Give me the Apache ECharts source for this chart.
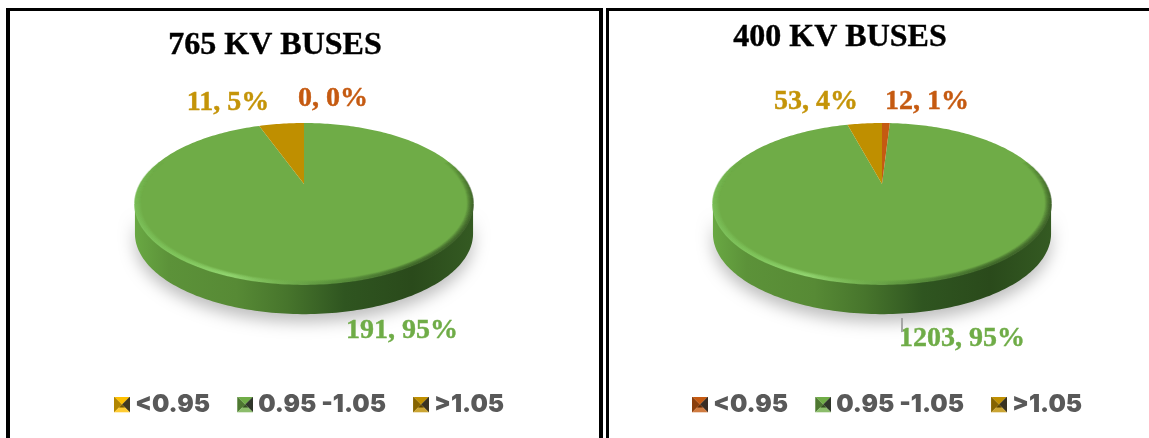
<!DOCTYPE html>
<html><head><meta charset="utf-8">
<style>html,body{margin:0;padding:0;background:#fff}#c{width:1149px;height:438px}</style>
<script src="https://cdn.jsdelivr.net/npm/echarts@6/dist/echarts.min.js"></script>
</head><body><div id="c"></div>
<script>
const categories = ['<0.95', '0.95 -1.05', '>1.05'];
const values765 = [0, 191, 11];
const values400 = [12, 1203, 53];
const titles = ['765 KV BUSES', '400 KV BUSES'];
const sliceColors = ['#c55a11', '#6fac47', '#bf8f00'];
const markerColors765 = ['#ffc000', '#70ad47', '#bf8f00'];
const markerColors400 = ['#c55a11', '#70ad47', '#bf8f00'];

const pies = [
  {cx: 304, apexY: 184, values: values765, markers: markerColors765, title: titles[0], titleX: 270, titleY: 25,
   legendX: 114, labelPos: [[333, 99], [402, 331], [228, 103]]},
  {cx: 882, apexY: 184, values: values400, markers: markerColors400, title: titles[1], titleX: 835, titleY: 17,
   legendX: 692, labelPos: [[927, 102], [962, 339], [816, 102]]}
];
// perspective disc: A,B,P give a projective circle; DEPTH is the extrusion
const A = 164, B = 75.8, P = 0.243, DEPTH = 30;
// t runs clockwise from the top: FRONT_START is the right-hand extreme, FRONT_END the left-hand one
const FRONT_START = Math.acos(-P), FRONT_END = 2 * Math.PI - FRONT_START;

function pt(pie, t, dy, scale) {
  const s = scale || 1, w = 1 + P * Math.cos(t);
  return [pie.cx + s * A * Math.sin(t) / w, pie.apexY - s * B * Math.cos(t) / w + (dy || 0)];
}
function arc(pie, t0, t1, dy, scale) {
  const n = Math.max(2, Math.ceil(Math.abs(t1 - t0) / 0.02)), out = [];
  for (let i = 0; i <= n; i++) out.push(pt(pie, t0 + (t1 - t0) * i / n, dy, scale));
  return out;
}
function wallGradient() {
  return new echarts.graphic.LinearGradient(0, 0, 1, 0, [
    {offset: 0, color: '#69a843'}, {offset: 0.1, color: '#5c9239'}, {offset: 0.3, color: '#578a35'},
    {offset: 0.45, color: '#47752c'}, {offset: 0.62, color: '#2f5520'}, {offset: 0.82, color: '#2a4a1b'}, {offset: 1, color: '#345a22'}
  ]);
}
function rimGradient(alpha) {
  const c = (r, g, b) => `rgba(${r},${g},${b},${alpha})`;
  return new echarts.graphic.LinearGradient(0, 0, 1, 0, [
    {offset: 0, color: c(122, 190, 88)}, {offset: 0.12, color: c(128, 198, 92)}, {offset: 0.28, color: c(146, 214, 112)},
    {offset: 0.42, color: c(118, 180, 82)}, {offset: 0.58, color: c(90, 145, 60)},
    {offset: 0.8, color: c(62, 102, 40)}, {offset: 1, color: c(58, 92, 38)}
  ]);
}
function renderSlice(pie, idx) {
  return function (params, api) {
    const total = pie.values.reduce((a, b) => a + b, 0);
    const before = pie.values.slice(0, idx).reduce((a, b) => a + b, 0);
    const val = api.value(0);
    const t0 = before / total * 2 * Math.PI, t1 = (before + val) / total * 2 * Math.PI;
    const color = sliceColors[idx], children = [];
    const a0 = Math.max(t0, FRONT_START), a1 = Math.min(t1, FRONT_END);
    if (a1 > a0) {
      const top = arc(pie, a0, a1, 0), bot = arc(pie, a1, a0, DEPTH);
      children.push({type: 'polygon', shape: {points: top.concat(bot)},
        style: {fill: wallGradient(), shadowBlur: 16, shadowColor: 'rgba(0,0,0,0.26)', shadowOffsetY: 8}});
    }
    if (val > 0) {
      const face = [[pie.cx, pie.apexY]].concat(arc(pie, t0, t1, 0));
      children.push({type: 'polygon', shape: {points: face}, z2: 5, style: {fill: color}});
    }
    if (a1 > a0) {
      // soft bevel around the front edge, fading inwards and towards the back
      const N = 7, TAILS = 8, DT = 0.07;
      for (let j = 0; j < N; j++) {
        const s = 1 - 0.0055 * j, alpha = 0.85 * (1 - j / N);
        children.push({type: 'polyline', z2: 6, shape: {points: arc(pie, a0, a1, 0, s)},
          style: {fill: null, lineWidth: 1.6, stroke: rimGradient(alpha)}});
        for (let k = 0; k < TAILS; k++) {
          const fade = alpha * (1 - (k + 1) / (TAILS + 1));
          children.push({type: 'polyline', z2: 6, shape: {points: arc(pie, a0 - k * DT, a0 - (k + 1) * DT, 0, s)},
            style: {fill: null, lineWidth: 1.6, stroke: `rgba(58,92,38,${fade})`}});
          children.push({type: 'polyline', z2: 6, shape: {points: arc(pie, a1 + k * DT, a1 + (k + 1) * DT, 0, s)},
            style: {fill: null, lineWidth: 1.6, stroke: `rgba(122,190,88,${fade})`}});
        }
      }
    }
    const lp = pie.labelPos[idx];
    const fill = color === '#bf8f00' ? '#c49408' : color;
    children.push({type: 'text', z2: 10, x: lp[0], y: lp[1], style: {
      text: val + ', ' + Math.round(val / total * 100) + '%',
      fill, stroke: fill, lineWidth: 0.4,
      font: 'bold 28px "Liberation Serif"', align: 'center', verticalAlign: 'middle'}});
    return {type: 'group', children};
  };
}
function marker(c) {
  const svg = `<svg xmlns="http://www.w3.org/2000/svg" width="32" height="32" viewBox="0 0 16 16">`
    + `<path d="M0 0H16L8 8Z" fill="${c}"/><path d="M0 0V16L8 8Z" fill="${c}"/>`
    + `<path d="M0 0V16L8 8Z" fill="#000" opacity="0.3"/>`
    + `<path d="M16 0V16L8 8Z" fill="#000" opacity="0.85"/><path d="M16 0V16L8 8Z" fill="${c}" opacity="0.12"/>`
    + `<path d="M0 16H16L8 8Z" fill="${c}"/><path d="M0 16H16L11 11H5Z" fill="#fff" opacity="0.2"/><path d="M8 8L11 11H5Z" fill="#000" opacity="0.55"/></svg>`;
  return 'image://data:image/svg+xml;charset=utf-8,' + encodeURIComponent(svg);
}
const series = [], legends = [], title = [];
pies.forEach((pie) => {
  title.push({text: pie.title, left: pie.titleX, top: pie.titleY, textAlign: 'center',
    textStyle: {fontFamily: 'Liberation Serif', fontWeight: 'bold', fontSize: 32, color: '#000', textBorderColor: '#000', textBorderWidth: 0.4}});
  legends.push({left: pie.legendX, top: 392, padding: 0, itemWidth: 16, itemHeight: 16, itemGap: 27, selectedMode: false,
    textStyle: {fontFamily: 'Inter', fontWeight: 900, fontSize: 24.5, color: '#595959'},
    data: categories.map((name, i) => ({name, icon: marker(pie.markers[i])}))});
  categories.forEach((name, i) => {
    series.push({type: 'custom', name, coordinateSystem: 'none', silent: true, animation: false,
      z: i === 1 ? 2 : 3, itemStyle: {color: sliceColors[i]},
      renderItem: renderSlice(pie, i), data: [[pie.values[i]]]});
  });
});
const frame = (x, y, w, h) => ({type: 'rect', shape: {x, y, width: w, height: h}, style: {fill: '#000'}, silent: true});
const chart = echarts.init(document.getElementById('c'), null, {renderer: 'canvas'});
chart.setOption({
  animation: false, backgroundColor: '#fff', title, legend: legends, series,
  graphic: [frame(6, 8, 594, 3), frame(6, 8, 4, 430), frame(599, 8, 4, 430), frame(606, 8, 3, 430), frame(606, 8, 543, 3),
    {type: 'rect', shape: {x: 901, y: 318, width: 2, height: 14}, style: {fill: '#a6a6a6'}, silent: true, z: 20}]
});
</script></body></html>
